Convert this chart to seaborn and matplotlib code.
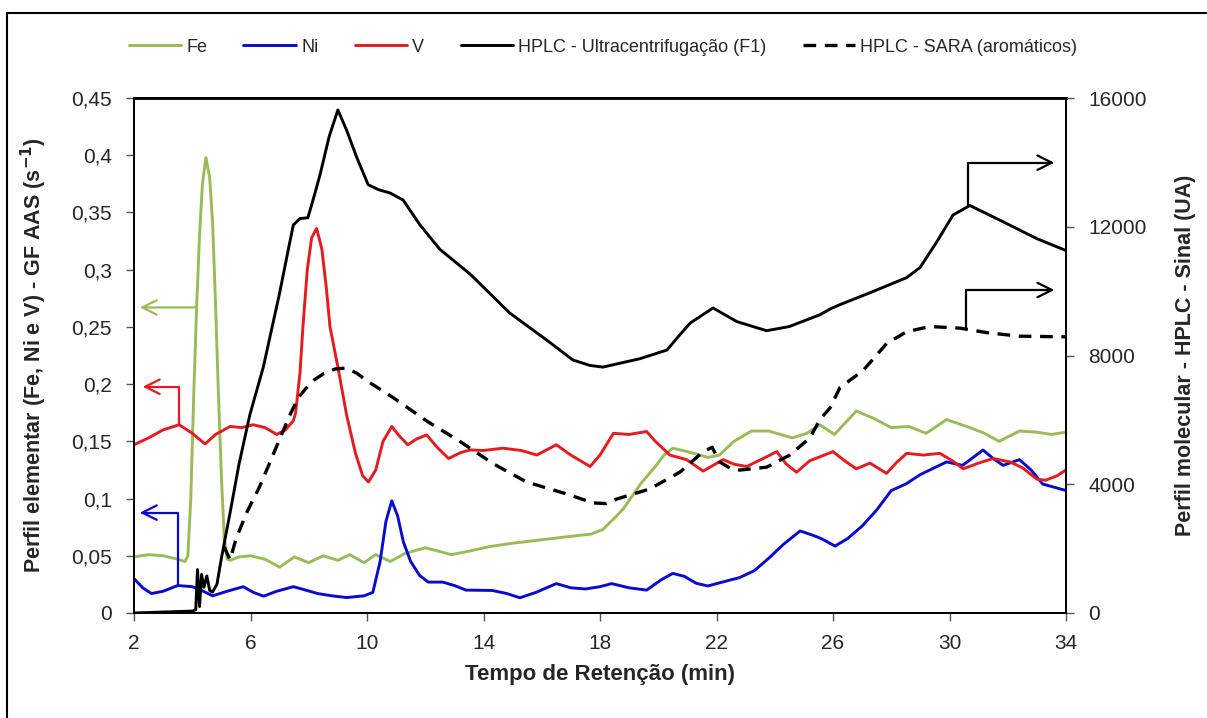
import matplotlib
matplotlib.use("Agg")
import matplotlib.pyplot as plt
from matplotlib import font_manager
from matplotlib.patches import Rectangle
from matplotlib.ticker import FixedLocator, FuncFormatter
import seaborn as sns
import pandas as pd

# ---- elemental profiles (GF AAS, s^-1) ----
fe_t = [2.0, 2.5, 3.0, 3.5, 3.75, 3.85, 3.95, 4.05, 4.15, 4.25, 4.35, 4.47, 4.6, 4.7,
        4.8, 4.9, 5.0, 5.1, 5.2, 5.3, 5.6, 6.0, 6.5, 7.0, 7.5, 8.0, 8.5, 9.0, 9.4, 9.9,
        10.3, 10.8, 11.3, 12.0, 12.3, 12.9, 13.5, 14.2, 15.0, 16.0, 17.0, 17.7, 18.1,
        18.5, 18.8, 19.4, 19.9, 20.2, 20.5, 21.0, 21.7, 22.1, 22.6, 23.2, 23.8, 24.6,
        25.1, 25.55, 26.05, 26.8, 27.4, 28.0, 28.6, 29.2, 29.9, 30.7, 31.2, 31.7, 32.4,
        33.0, 33.5, 34.0]
fe_v = [0.049, 0.051, 0.050, 0.047, 0.045, 0.050, 0.100, 0.190, 0.267, 0.330, 0.375,
        0.398, 0.380, 0.340, 0.270, 0.190, 0.120, 0.065, 0.047, 0.046, 0.049, 0.050,
        0.047, 0.040, 0.049, 0.044, 0.050, 0.046, 0.051, 0.044, 0.051, 0.045, 0.052,
        0.057, 0.055, 0.051, 0.054, 0.058, 0.061, 0.064, 0.067, 0.069, 0.073, 0.083,
        0.091, 0.113, 0.128, 0.138, 0.144, 0.141, 0.136, 0.138, 0.150, 0.159, 0.159,
        0.153, 0.157, 0.1645, 0.156, 0.1765, 0.170, 0.162, 0.163, 0.157, 0.169, 0.162,
        0.157, 0.150, 0.159, 0.158, 0.156, 0.158]

ni_t = [2.0, 2.3, 2.6, 3.0, 3.5, 4.0, 4.3, 4.7, 5.2, 5.75, 6.1, 6.45, 6.9, 7.47, 7.9,
        8.3, 8.8, 9.3, 9.9, 10.2, 10.45, 10.65, 10.85, 11.05, 11.25, 11.5, 11.8, 12.1,
        12.6, 13.0, 13.4, 14.3, 14.8, 15.25, 15.8, 16.5, 17.0, 17.5, 18.0, 18.4, 19.0,
        19.6, 20.1, 20.5, 20.9, 21.3, 21.7, 22.2, 22.8, 23.3, 23.8, 24.3, 24.87, 25.3,
        25.6, 26.07, 26.5, 27.0, 27.5, 28.0, 28.5, 29.0, 29.9, 30.45, 31.15, 31.5,
        31.84, 32.4, 32.8, 33.2, 34.0]
ni_v = [0.030, 0.022, 0.017, 0.019, 0.024, 0.023, 0.020, 0.015, 0.019, 0.023, 0.018,
        0.0147, 0.019, 0.023, 0.020, 0.017, 0.015, 0.0135, 0.015, 0.018, 0.045, 0.080,
        0.098, 0.085, 0.062, 0.045, 0.033, 0.027, 0.027, 0.024, 0.020, 0.0197, 0.017,
        0.0133, 0.018, 0.0257, 0.022, 0.021, 0.023, 0.0257, 0.022, 0.020, 0.029,
        0.0346, 0.032, 0.026, 0.0236, 0.027, 0.031, 0.037, 0.048, 0.060, 0.0717,
        0.068, 0.065, 0.0585, 0.065, 0.076, 0.090, 0.107, 0.1127, 0.121, 0.132, 0.129,
        0.1424, 0.135, 0.129, 0.134, 0.125, 0.1127, 0.107]

v_t = [2.0, 2.5, 3.0, 3.55, 4.0, 4.44, 4.8, 5.3, 5.7, 6.09, 6.5, 6.9, 7.2, 7.47, 7.55,
       7.7, 7.8, 7.95, 8.1, 8.27, 8.45, 8.6, 8.73, 9.0, 9.3, 9.6, 9.85, 10.05, 10.3,
       10.55, 10.85, 11.1, 11.4, 11.7, 12.05, 12.4, 12.8, 13.2, 13.54, 14.0, 14.67,
       15.3, 15.83, 16.5, 17.0, 17.66, 18.0, 18.46, 19.0, 19.6, 19.9, 20.4, 20.97,
       21.54, 22.23, 22.6, 23.04, 23.6, 24.07, 24.4, 24.75, 25.2, 25.55, 26.0, 26.4,
       26.8, 27.27, 27.84, 28.2, 28.53, 29.1, 29.67, 30.1, 30.47, 31.0, 31.5, 32.08,
       32.5, 33.0, 33.3, 33.7, 34.0]
v_v = [0.147, 0.153, 0.160, 0.1645, 0.157, 0.1477, 0.156, 0.163, 0.162, 0.1645, 0.162,
       0.156, 0.160, 0.168, 0.175, 0.210, 0.250, 0.300, 0.328, 0.336, 0.318, 0.285,
       0.250, 0.215, 0.173, 0.140, 0.120, 0.1145, 0.125, 0.150, 0.163, 0.155, 0.147,
       0.152, 0.1556, 0.145, 0.135, 0.140, 0.1425, 0.142, 0.144, 0.142, 0.138, 0.147,
       0.138, 0.128, 0.138, 0.157, 0.156, 0.1586, 0.150, 0.138, 0.134, 0.124, 0.134,
       0.130, 0.128, 0.135, 0.141, 0.130, 0.123, 0.133, 0.1365, 0.141, 0.133, 0.126,
       0.131, 0.122, 0.132, 0.1395, 0.138, 0.1395, 0.133, 0.126, 0.131, 0.135, 0.132,
       0.127, 0.117, 0.116, 0.120, 0.125]

# ---- molecular profiles (HPLC signal, UA) ----
f1_t = [2.0, 3.0, 4.0, 4.12, 4.18, 4.25, 4.32, 4.4, 4.5, 4.6, 4.7, 4.85, 5.0, 5.3, 5.6,
        5.98, 6.44, 7.0, 7.3, 7.47, 7.7, 7.97, 8.2, 8.39, 8.7, 9.0, 9.3, 9.65, 10.04,
        10.4, 10.79, 11.24, 11.82, 12.5, 13.54, 14.9, 16.17, 17.07, 17.66, 18.1, 19.37,
        20.3, 20.7, 21.1, 21.88, 22.7, 23.72, 24.5, 25.55, 25.9, 26.24, 27.27, 28.53,
        28.99, 29.56, 30.12, 30.7, 31.84, 33.0, 34.0]
f1_v = [0, 30, 60, 100, 1350, 200, 1200, 800, 1150, 700, 650, 900, 1700, 3119, 4600,
        6167, 7640, 9942, 11300, 12055, 12256, 12279, 13000, 13624, 14800, 15629, 15000,
        14150, 13307, 13150, 13050, 12830, 12055, 11300, 10530, 9320, 8480, 7860, 7690,
        7640, 7900, 8170, 8600, 9010, 9476, 9053, 8770, 8900, 9265, 9445, 9580, 9950,
        10420, 10735, 11525, 12365, 12660, 12155, 11630, 11260]

sara_t = [5.1, 5.3, 5.5, 5.87, 6.3, 6.67, 7.0, 7.36, 7.65, 7.93, 8.2, 8.5, 8.9, 9.3,
          9.65, 9.99, 10.9, 12.05, 13.2, 14.33, 15.48, 16.86, 17.76, 18.2, 18.57, 19.7,
          20.75, 21.54, 21.85, 22.1, 22.5, 22.8, 23.72, 24.5, 25.2, 25.55, 25.9, 26.24,
          27.03, 27.84, 28.53, 29.33, 30.36, 31.28, 32.4, 34.0]
sara_v = [2050, 1650, 2300, 3119, 3900, 4690, 5400, 6167, 6700, 7006, 7250, 7430, 7580,
          7612, 7450, 7217, 6690, 5965, 5325, 4640, 4070, 3697, 3420, 3400, 3540, 3850,
          4380, 5010, 5150, 4700, 4480, 4440, 4530, 4900, 5430, 6010, 6375, 7006, 7530,
          8370, 8740, 8900, 8850, 8710, 8600, 8580]

left_ticks = [0, 0.05, 0.1, 0.15, 0.2, 0.25, 0.3, 0.35, 0.4, 0.45]
left_tick_labels = ["0", "0,05", "0,1", "0,15", "0,2", "0,25", "0,3", "0,35", "0,4", "0,45"]
right_ticks = [0, 4000, 8000, 12000, 16000]
x_ticks = [2, 6, 10, 14, 18, 22, 26, 30, 34]

labels = ["Fe", "Ni", "V", "HPLC - Ultracentrifugação (F1)", "HPLC - SARA (aromáticos)"]
C_FE, C_NI, C_V, C_K = "#9BBB59", "#0A0ACF", "#E41B1F", "#000000"

sns.set_theme(style="white")
available = {f.name for f in font_manager.fontManager.ttflist}
base_font = "Liberation Sans" if "Liberation Sans" in available else "DejaVu Sans"
plt.rcParams["font.family"] = [base_font, "DejaVu Sans"]

fig = plt.figure(figsize=(12.07, 7.18), dpi=100)
ax = fig.add_axes([134 / 1207, 1 - 613 / 718, (1066 - 134) / 1207, (613 - 98) / 718])
ax2 = ax.twinx()

def frame(t, v):
    return pd.DataFrame({"t": t, "v": v})

lw = 2.1
sns.lineplot(data=frame(fe_t, fe_v), x="t", y="v", ax=ax, color=C_FE, lw=lw,
             sort=False, estimator=None, label=labels[0], legend=False)
sns.lineplot(data=frame(ni_t, ni_v), x="t", y="v", ax=ax, color=C_NI, lw=lw,
             sort=False, estimator=None, label=labels[1], legend=False)
sns.lineplot(data=frame(v_t, v_v), x="t", y="v", ax=ax, color=C_V, lw=lw,
             sort=False, estimator=None, label=labels[2], legend=False)
sns.lineplot(data=frame(f1_t, f1_v), x="t", y="v", ax=ax2, color=C_K, lw=lw,
             sort=False, estimator=None, label=labels[3], legend=False)
sns.lineplot(data=frame(sara_t, sara_v), x="t", y="v", ax=ax2, color=C_K, lw=lw + 0.3,
             sort=False, estimator=None, label=labels[4], legend=False,
             linestyle=(0, (3.8, 2.6)))

ax.set_xlim(2, 34)
ax.set_ylim(0, 0.45)
ax2.set_ylim(0, 16000)
ax.xaxis.set_major_locator(FixedLocator(x_ticks))
ax.yaxis.set_major_locator(FixedLocator(left_ticks))
ax.set_yticklabels(left_tick_labels)
ax2.yaxis.set_major_locator(FixedLocator(right_ticks))
ax2.yaxis.set_major_formatter(FuncFormatter(lambda v, p: f"{int(v)}"))

tick_fs = 15
ax.tick_params(axis="y", direction="out", length=6, width=1, color="#555555",
               labelsize=tick_fs, pad=10, left=True, right=False)
ax.tick_params(axis="x", direction="out", length=6, width=1, color="#555555",
               labelsize=tick_fs, pad=9, bottom=True)
ax2.tick_params(axis="y", direction="out", length=6, width=1, color="#555555",
                labelsize=tick_fs, right=True, pad=10)
for a in (ax, ax2):
    for s in a.spines.values():
        s.set_color("black")
        s.set_linewidth(1.3)
ax.spines["top"].set_linewidth(2.0)
ax.grid(False)
ax2.grid(False)

label_fs = 15.5
ax.set_xlabel("Tempo de Retenção (min)", fontsize=16, fontweight="bold", labelpad=8)
ax.set_ylabel("Perfil elementar (Fe, Ni e V) - GF AAS (s$^\\mathbf{-1}$)", fontsize=label_fs,
              fontweight="bold", labelpad=16)
ax2.set_ylabel("Perfil molecular - HPLC - Sinal (UA)", fontsize=label_fs, fontweight="bold",
               labelpad=20)

# pointers from each curve to the axis it is read against
arrow_kw = dict(arrowstyle="->", lw=1.6, mutation_scale=26, shrinkA=0, shrinkB=0)
ax.annotate("", xy=(2.2, 0.267), xytext=(4.15, 0.267),
            arrowprops=dict(color=C_FE, **arrow_kw))
ax.annotate("", xy=(2.3, 0.1977), xytext=(3.55, 0.1645),
            arrowprops=dict(color=C_V, connectionstyle="angle,angleA=90,angleB=0,rad=0",
                            **arrow_kw))
ax.annotate("", xy=(2.2, 0.0877), xytext=(3.52, 0.0245),
            arrowprops=dict(color=C_NI, connectionstyle="angle,angleA=90,angleB=0,rad=0",
                            **arrow_kw))
ax2.annotate("", xy=(33.6, 13990), xytext=(30.64, 12660),
             arrowprops=dict(color=C_K, connectionstyle="angle,angleA=90,angleB=0,rad=0",
                             **arrow_kw))
ax2.annotate("", xy=(33.6, 10035), xytext=(30.58, 8850),
             arrowprops=dict(color=C_K, connectionstyle="angle,angleA=90,angleB=0,rad=0",
                             **arrow_kw))

handles = ax.get_lines()[:3] + ax2.get_lines()[:2]
fig.legend(handles, labels, loc="center", bbox_to_anchor=(603 / 1207, 1 - 47 / 718), ncol=5,
           frameon=False, handlelength=2.9, handletextpad=0.3, columnspacing=2.0,
           prop={"family": [base_font, "DejaVu Sans"], "size": 13})

# outer border (only the top and left edges fall inside the canvas)
fig.patches.append(Rectangle((7 / 1207, -0.05), 1.2, 1 - 13 / 718 + 0.05,
                             transform=fig.transFigure, fill=False, edgecolor="black",
                             lw=1.5))

fig.savefig("out.png", dpi=100)
